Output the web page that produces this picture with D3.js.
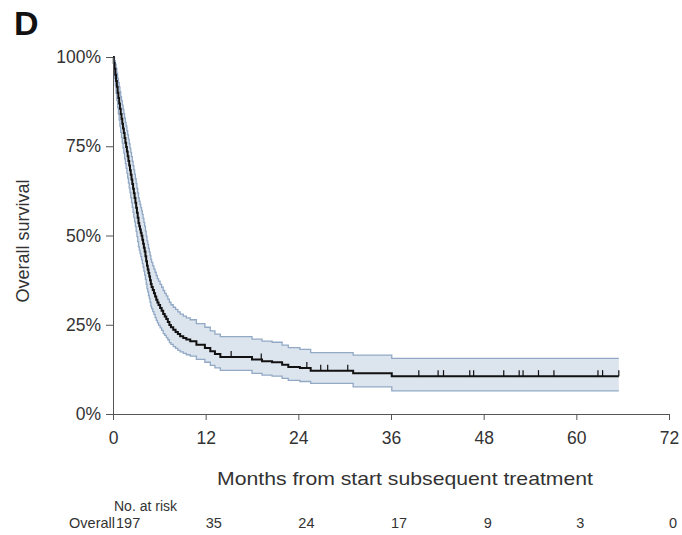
<!DOCTYPE html>
<html>
<head>
<meta charset="utf-8">
<script src="https://cdn.jsdelivr.net/npm/d3@7"></script>
<style>
  html, body { margin: 0; padding: 0; background: #fff; }
  svg { display: block; }
  text { font-family: "Liberation Sans", Arial, sans-serif; }
</style>
</head>
<body>
<svg id="chart" width="682" height="535"></svg>
<script>
// ---- data ----
const times = [0, 0.1, 0.2, 0.3, 0.4, 0.5, 0.6, 0.7, 0.8, 0.9, 1.0, 1.1, 1.2, 1.3, 1.4, 1.5, 1.6, 1.7, 1.8, 1.9, 2.0, 2.1, 2.2, 2.3, 2.4, 2.5, 2.6, 2.7, 2.8, 2.9, 3.0, 3.1, 3.2, 3.3, 3.4, 3.5, 3.6, 3.7, 3.8, 3.9, 4.0, 4.1, 4.2, 4.3, 4.4, 4.5, 4.6, 4.7, 4.8, 4.9, 5.0, 5.15, 5.3, 5.45, 5.6, 5.75, 5.9, 6.1, 6.3, 6.5, 6.7, 6.9, 7.1, 7.3, 7.5, 7.8, 8.1, 8.4, 8.7, 9.1, 9.5, 10.0, 10.8, 11.9, 12.6, 13.2, 13.9, 18.0, 19.3, 20.6, 21.9, 22.7, 24.2, 25.6, 31.1, 36.1, 65.5];
const survival = [100, 98.3, 96.7, 95.0, 93.3, 91.7, 90.0, 88.5, 87.0, 85.5, 84.0, 82.7, 81.3, 80.0, 78.7, 77.3, 76.0, 74.8, 73.5, 72.2, 70.9, 69.6, 68.3, 67.0, 65.7, 64.4, 63.1, 61.8, 60.5, 59.2, 57.8, 56.4, 55.0, 53.5, 52.6, 51.7, 50.8, 49.9, 48.8, 47.7, 46.6, 45.5, 44.2, 42.8, 41.5, 40.5, 39.5, 38.5, 37.5, 36.4, 35.6, 34.7, 33.8, 32.9, 32.0, 31.2, 30.5, 29.7, 28.9, 28.0, 27.3, 26.6, 25.8, 24.9, 24.3, 23.6, 23.0, 22.4, 21.8, 21.3, 20.9, 20.4, 19.4, 18.5, 17.6, 16.8, 16.0, 15.3, 14.8, 14.5, 13.8, 13.2, 12.9, 12.1, 11.4, 10.6, 10.6];
const upperCI = [100, 99.8, 99.0, 98.0, 96.8, 95.5, 94.0, 92.8, 91.6, 90.3, 88.9, 87.8, 86.5, 85.3, 84.1, 82.9, 81.7, 80.6, 79.4, 78.2, 77.0, 75.7, 74.5, 73.3, 72.1, 70.8, 69.6, 68.4, 67.2, 65.9, 64.6, 63.2, 61.9, 60.5, 59.6, 58.7, 57.8, 56.9, 55.9, 54.8, 53.7, 52.6, 51.2, 49.8, 48.5, 47.5, 46.4, 45.4, 44.4, 43.3, 42.5, 41.5, 40.6, 39.7, 38.8, 37.9, 37.2, 36.3, 35.5, 34.6, 33.8, 33.1, 32.2, 31.3, 30.6, 29.9, 29.3, 28.6, 28.0, 27.4, 26.9, 26.4, 25.3, 24.3, 23.3, 22.4, 21.7, 21.0, 20.4, 20.1, 19.3, 18.6, 18.1, 17.2, 16.5, 15.6, 15.6];
const lowerCI = [100, 96.0, 94.0, 92.0, 89.8, 87.8, 85.8, 84.0, 82.3, 80.6, 78.9, 77.4, 75.9, 74.5, 73.1, 71.5, 70.1, 68.8, 67.4, 66.1, 64.7, 63.3, 62.0, 60.6, 59.2, 57.9, 56.5, 55.1, 53.8, 52.5, 51.1, 49.7, 48.3, 46.8, 45.9, 45.0, 44.1, 43.2, 42.1, 41.1, 40.0, 38.9, 37.7, 36.4, 35.1, 34.2, 33.2, 32.3, 31.3, 30.2, 29.5, 28.7, 27.9, 27.0, 26.2, 25.5, 24.8, 24.1, 23.4, 22.5, 22.0, 21.4, 20.8, 20.0, 19.5, 18.9, 18.4, 17.8, 17.4, 17.0, 16.6, 16.2, 15.3, 14.5, 13.6, 12.9, 12.2, 11.4, 10.9, 10.6, 10.0, 9.4, 9.1, 8.6, 7.6, 6.5, 6.5];
const censorTimes = [15.3, 19.2, 25.1, 26.9, 27.8, 30.4, 39.6, 42.1, 42.8, 46.2, 46.7, 50.6, 52.6, 53.1, 55.1, 57.1, 62.8, 63.4, 65.5];
const xTicks = [0, 12, 24, 36, 48, 60, 72];
const yTicks = [0, 25, 50, 75, 100];
const riskTimes = [0, 12, 24, 36, 48, 60, 72];
const riskCounts = [197, 35, 24, 17, 9, 3, 0];

// ---- layout ----
const svg = d3.select("#chart");
const x = d3.scaleLinear().domain([0, 72]).range([113, 669]);
const y = d3.scaleLinear().domain([0, 100]).range([414, 57]);
const textCol = "#333";
const axisCol = "#555";

const km = times.map((t, i) => ({ t, s: survival[i], hi: upperCI[i], lo: lowerCI[i] }));

// band
svg.append("path")
  .datum(km)
  .attr("fill", "#dce4ee")
  .attr("d", d3.area().curve(d3.curveStepAfter).x(d => x(d.t)).y0(d => y(d.lo)).y1(d => y(d.hi)));
["hi", "lo"].forEach(k => {
  svg.append("path")
    .datum(km)
    .attr("fill", "none")
    .attr("stroke", "#92a9c6")
    .attr("stroke-width", 1.3)
    .attr("d", d3.line().curve(d3.curveStepAfter).x(d => x(d.t)).y(d => y(d[k])));
});

// curve
svg.append("path")
  .datum(km)
  .attr("fill", "none")
  .attr("stroke", "#111")
  .attr("stroke-width", 2)
  .attr("d", d3.line().curve(d3.curveStepAfter).x(d => x(d.t)).y(d => y(d.s)));

// censor marks
const bis = d3.bisector(d => d.t).right;
svg.append("g").selectAll("line")
  .data(censorTimes)
  .join("line")
  .attr("x1", d => x(d)).attr("x2", d => x(d))
  .attr("y1", d => y(km[Math.max(0, bis(km, d) - 1)].s))
  .attr("y2", d => y(km[Math.max(0, bis(km, d) - 1)].s) - 6)
  .attr("stroke", "#111")
  .attr("stroke-width", 1.2);

// axes
const gx = svg.append("g").attr("transform", "translate(0,414)")
  .call(d3.axisBottom(x).tickValues(xTicks).tickSize(6).tickPadding(12).tickSizeOuter(0));
const gy = svg.append("g").attr("transform", "translate(113,0)")
  .call(d3.axisLeft(y).tickValues(yTicks).tickFormat(d => d + "%").tickSize(7).tickPadding(5).tickSizeOuter(0));
[gx, gy].forEach(g => {
  g.select(".domain").attr("stroke", axisCol);
  g.selectAll(".tick line").attr("stroke", axisCol);
  g.selectAll(".tick text").attr("fill", textCol).style("font-size", "17.5px")
    .style("font-family", "'Liberation Sans', Arial, sans-serif");
});

// titles
svg.append("text").text("D")
  .attr("x", 14).attr("y", 35)
  .style("font-size", "34px").style("font-weight", "bold").attr("fill", "#111");

svg.append("text").text("Overall survival")
  .attr("transform", "translate(29,241) rotate(-90)")
  .attr("text-anchor", "middle")
  .style("font-size", "18px").attr("fill", textCol);

svg.append("text").text("Months from start subsequent treatment")
  .attr("x", 405).attr("y", 485)
  .attr("text-anchor", "middle")
  .attr("textLength", 376).attr("lengthAdjust", "spacingAndGlyphs")
  .style("font-size", "19px").attr("fill", textCol);

// risk table
svg.append("text").text("No. at risk")
  .attr("x", 114).attr("y", 511)
  .style("font-size", "14px").attr("fill", textCol);
svg.append("text").text("Overall")
  .attr("x", 115).attr("y", 528)
  .attr("text-anchor", "end")
  .style("font-size", "14.5px").attr("fill", textCol);
svg.append("g").selectAll("text")
  .data(riskCounts)
  .join("text")
  .text(d => d)
  .attr("x", (d, i) => x(riskTimes[i]) + (i === 0 ? 3 : 0))
  .attr("y", 528)
  .style("font-size", "14.5px").attr("fill", textCol);
</script>
</body>
</html>
